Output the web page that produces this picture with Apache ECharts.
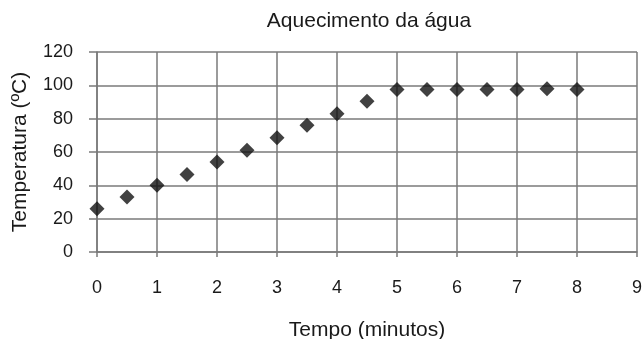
<!DOCTYPE html>
<html><head><meta charset="utf-8">
<script src="https://cdn.jsdelivr.net/npm/echarts@6/dist/echarts.min.js"></script>
<style>html,body{margin:0;padding:0;background:#fff}#c{width:644px;height:339px}</style>
</head><body><div id="c"></div>
<script>
const tempo = [0, 0.5, 1, 1.5, 2, 2.5, 3, 3.5, 4, 4.5, 5, 5.5, 6, 6.5, 7, 7.5, 8];
const temperatura = [26, 33, 40, 46.5, 54, 61, 68.5, 76, 83, 90.5, 97.5, 97.5, 97.5, 97.5, 97.5, 98, 97.5];
const titulo = 'Aquecimento da água';
const nomeX = 'Tempo (minutos)';
const nomeY = 'Temperatura (ºC)';

const font = 'Liberation Sans, Arial, sans-serif';
const chart = echarts.init(document.getElementById('c'));
chart.setOption({
  animation: false,
  title: { text: titulo, left: 364, top: 6, textAlign: 'center',
    textStyle: { fontFamily: font, fontSize: 21, fontWeight: 'normal', color: '#1a1a1a' } },
  grid: { left: 97, right: 7, top: 52, bottom: 87, containLabel: false, outerBoundsMode: 'none' },
  xAxis: {
    type: 'value', min: 0, max: 9, interval: 1,
    name: nomeX, nameLocation: 'middle', nameGap: 68,
    nameTextStyle: { fontFamily: font, fontSize: 21, color: '#1a1a1a' },
    axisLine: { show: true, lineStyle: { color: '#7a7a7a', width: 1.5 } },
    axisTick: { show: true, length: 5, lineStyle: { color: '#7a7a7a', width: 1.5 } },
    axisLabel: { fontFamily: font, fontSize: 18, color: '#1a1a1a', margin: 27 },
    splitLine: { show: true, lineStyle: { color: '#7a7a7a', width: 1.5 } }
  },
  yAxis: {
    type: 'value', min: 0, max: 120, interval: 20,
    name: nomeY, nameLocation: 'middle', nameGap: 66,
    nameTextStyle: { fontFamily: font, fontSize: 21, color: '#1a1a1a' },
    axisLine: { show: true, lineStyle: { color: '#7a7a7a', width: 1.5 } },
    axisTick: { show: true, length: 8, lineStyle: { color: '#7a7a7a', width: 1.5 } },
    axisLabel: { fontFamily: font, fontSize: 18, color: '#1a1a1a', margin: 24 },
    splitLine: { show: true, lineStyle: { color: '#7a7a7a', width: 1.5 } }
  },
  series: [{
    type: 'scatter', symbol: 'diamond', symbolSize: 15,
    itemStyle: { color: '#111' },
    data: tempo.map((t, i) => [t, temperatura[i]])
  }]
});
</script></body></html>
